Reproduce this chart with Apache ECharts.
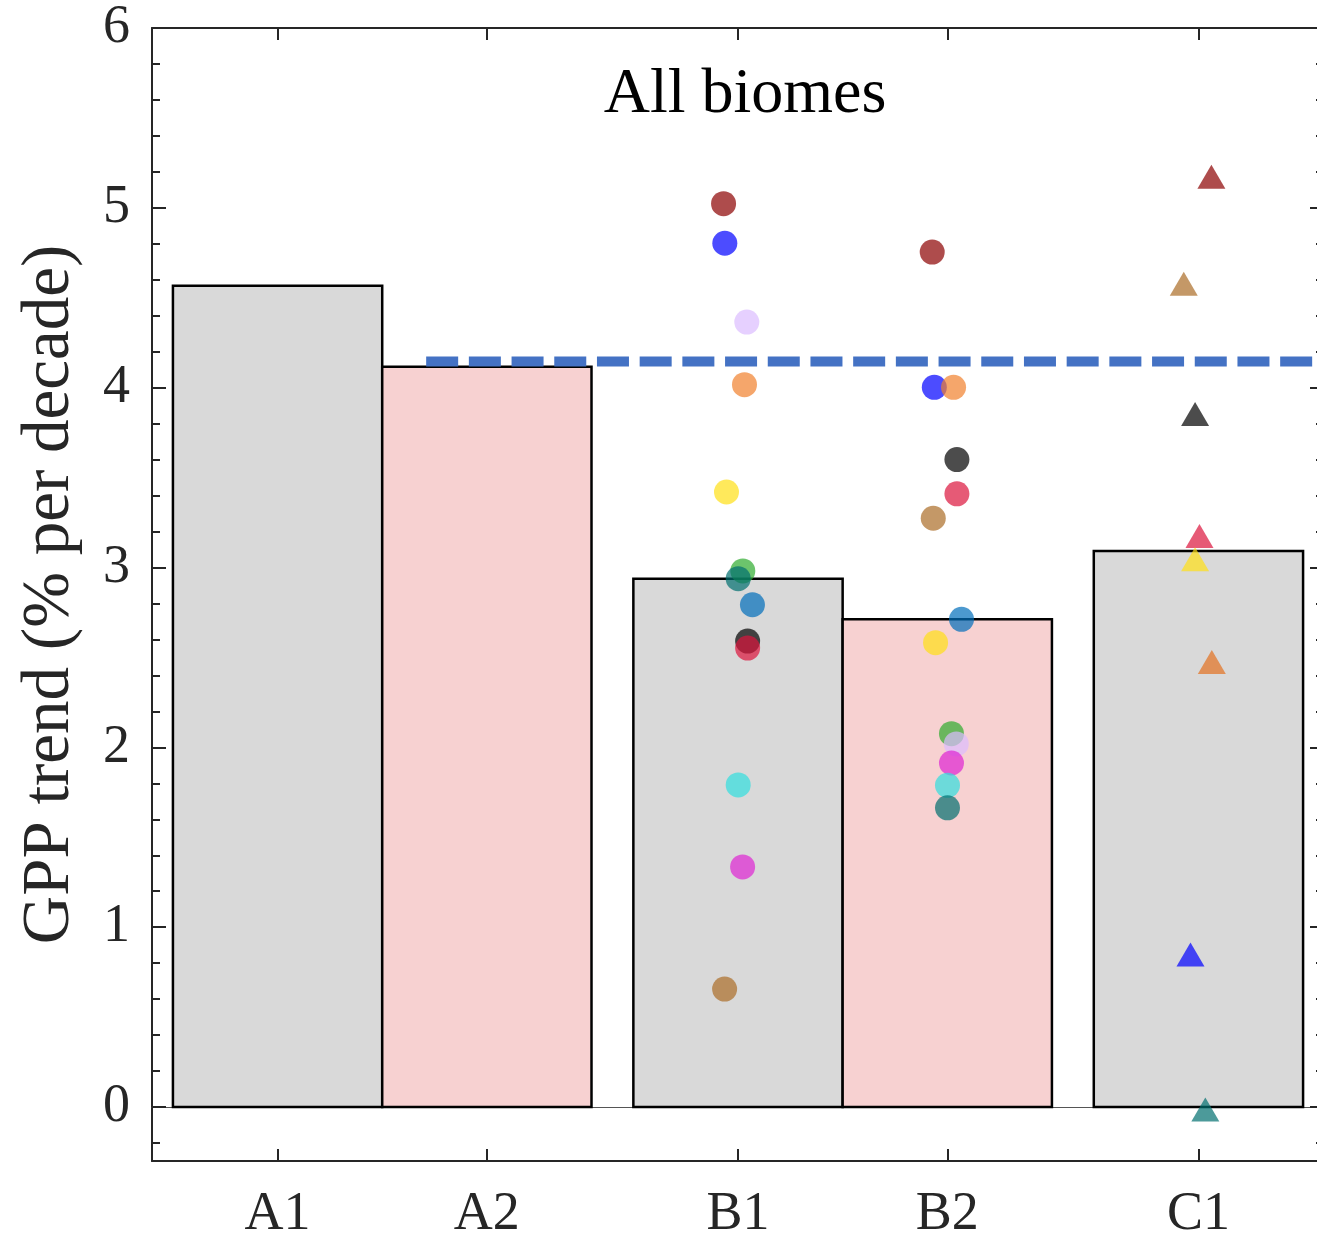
<!DOCTYPE html>
<html lang="en">
<head>
  <meta charset="UTF-8">
  <title>All biomes</title>
  <script src="https://cdn.jsdelivr.net/npm/echarts@6.0.0/dist/echarts.min.js"></script>
  <style>
    * {
      margin: 0;
      padding: 0;
      box-sizing: border-box;
    }
    body {
      background-color: #ffffff;
    }
    #chart {
      width: 1317px;
      height: 1235px;
    }
  </style>
</head>
<body>
  <div id="chart"></div>

  <script>
    // groups and bar heights
    var groupNames = ['A1', 'A2', 'B1', 'B2', 'C1'];
    var barValues = [4.567, 4.117, 2.938, 2.712, 3.092];

    // reference line (dashed)
    var refValue = 4.145;
    var refStart = 1.71;

    // individual estimates, x = jittered position, y = trend
    var b1X = [3.131, 3.137, 3.242, 3.231, 3.145, 3.223, 3.201, 3.269, 3.246, 3.246, 3.201, 3.222, 3.136];
    var b1Y = [5.023, 4.803, 4.365, 4.017, 3.420, 2.981, 2.938, 2.793, 2.591, 2.552, 1.791, 1.335, 0.656];

    var b2X = [4.128, 4.138, 4.230, 4.246, 4.246, 4.133, 4.268, 4.144, 4.220, 4.243, 4.220, 4.201, 4.201];
    var b2Y = [4.754, 4.002, 4.002, 3.600, 3.410, 3.274, 2.712, 2.582, 2.076, 2.019, 1.913, 1.789, 1.664];

    var c1X = [5.462, 5.330, 5.384, 5.405, 5.384, 5.464, 5.362, 5.433];
    var c1Y = [5.173, 4.578, 3.854, 3.175, 3.046, 2.475, 0.848, -0.014];

    // tick labels
    var yTicks = [0, 1, 2, 3, 4, 5, 6];
    var yMinorTicks = [];
    for (var i = -1; i <= 30; i++) {
      if (i % 5 !== 0) yMinorTicks.push(Math.round(i * 2) / 10);
    }

    // --- layout / style ---
    var groupPos = [1, 2, 3.2, 4.2, 5.4];
    var barFill = ['#d9d9d9', '#f7d1d1', '#d9d9d9', '#f7d1d1', '#d9d9d9'];
    var b1Colors = ['#8b0000', '#0000ff', '#dbbcff', '#f1802c', '#ffe016', '#2dab2d', '#006f6f',
                    '#006dba', '#000000', '#dc143c', '#30dede', '#de24d3', '#ab6c27'];
    var b2Colors = ['#8b0000', '#0000ff', '#f1802c', '#000000', '#dc143c', '#ab6c27', '#006dba',
                    '#ffe016', '#2dab2d', '#dbbcff', '#de24d3', '#30dede', '#006f6f'];
    var c1Colors = ['#8b0000', '#ab6c27', '#000000', '#dc143c', '#ffe016', '#e2701f', '#0000ff', '#006f6f'];

    var axisColor = '#262626';
    var fontFamily = "'Liberation Serif', 'Times New Roman', serif";

    function points(xs, ys, colors) {
      return xs.map(function (x, k) {
        return { value: [x, ys[k]], itemStyle: { color: colors[k] } };
      });
    }

    var chartDom = document.getElementById('chart');
    var myChart = echarts.init(chartDom, null, { renderer: 'canvas' });

    var labelStyle = { fontSize: 54, color: axisColor, fontFamily: fontFamily };

    var option = {
      animation: false,
      backgroundColor: '#ffffff',
      title: {
        text: 'All biomes',
        left: 740,
        top: 58,
        textAlign: 'center',
        textStyle: { fontSize: 64, fontWeight: 'normal', color: '#000000', fontFamily: fontFamily }
      },
      // the right edge of the box sits just outside the picture
      grid: {
        left: 152, width: 1172, top: 28, height: 1133,
        containLabel: false, outerBoundsMode: 'none'
      },
      xAxis: [
        {
          type: 'value', position: 'bottom', min: 0.4, max: 6,
          axisLine: { show: true, onZero: false, lineStyle: { color: axisColor, width: 2 } },
          axisTick: { show: true, inside: true, length: 12, customValues: groupPos, lineStyle: { color: axisColor, width: 2 } },
          axisLabel: {
            show: true, margin: 27, customValues: groupPos,
            fontSize: 54, color: axisColor, fontFamily: fontFamily,
            formatter: function (v) {
              for (var k = 0; k < groupPos.length; k++) {
                if (Math.abs(groupPos[k] - v) < 1e-6) return groupNames[k];
              }
              return '';
            }
          },
          splitLine: { show: false }
        },
        {
          type: 'value', position: 'top', min: 0.4, max: 6,
          axisLine: { show: true, onZero: false, lineStyle: { color: axisColor, width: 2 } },
          axisTick: { show: true, inside: true, length: 12, customValues: groupPos, lineStyle: { color: axisColor, width: 2 } },
          axisLabel: { show: false },
          splitLine: { show: false }
        },
        {
          // zero line
          type: 'value', position: 'bottom', min: 0.4, max: 6,
          axisLine: { show: true, onZero: true, lineStyle: { color: '#555555', width: 1 } },
          axisTick: { show: false },
          axisLabel: { show: false },
          splitLine: { show: false }
        }
      ],
      yAxis: [
        {
          type: 'value', position: 'left', min: -0.3, max: 6,
          name: 'GPP trend (% per decade)',
          nameLocation: 'middle',
          nameGap: 68,
          nameTextStyle: { fontSize: 67, color: axisColor, fontFamily: fontFamily },
          axisLine: { show: true, onZero: false, lineStyle: { color: axisColor, width: 2 } },
          axisTick: { show: true, inside: true, length: 14, customValues: yTicks, lineStyle: { color: axisColor, width: 2 } },
          axisLabel: Object.assign({ show: true, margin: 22, customValues: yTicks }, labelStyle),
          splitLine: { show: false }
        },
        {
          type: 'value', position: 'left', min: -0.3, max: 6,
          axisLine: { show: false, onZero: false },
          axisTick: { show: true, inside: true, length: 8, customValues: yMinorTicks, lineStyle: { color: axisColor, width: 2 } },
          axisLabel: { show: false },
          splitLine: { show: false }
        },
        {
          type: 'value', position: 'right', min: -0.3, max: 6,
          axisLine: { show: true, onZero: false, lineStyle: { color: axisColor, width: 2 } },
          axisTick: { show: true, inside: true, length: 14, customValues: yTicks, lineStyle: { color: axisColor, width: 2 } },
          axisLabel: { show: false },
          splitLine: { show: false }
        },
        {
          type: 'value', position: 'right', min: -0.3, max: 6,
          axisLine: { show: false, onZero: false },
          axisTick: { show: true, inside: true, length: 8, customValues: yMinorTicks, lineStyle: { color: axisColor, width: 2 } },
          axisLabel: { show: false },
          splitLine: { show: false }
        }
      ],
      series: [
        {
          type: 'custom',
          name: 'bars',
          xAxisIndex: 0,
          yAxisIndex: 0,
          z: 2,
          data: groupPos.map(function (x, k) { return [x, barValues[k]]; }),
          renderItem: function (params, api) {
            var x = api.value(0);
            var y = api.value(1);
            var p0 = api.coord([x - 0.5, y]);
            var p1 = api.coord([x + 0.5, 0]);
            return {
              type: 'rect',
              shape: { x: p0[0], y: p0[1], width: p1[0] - p0[0], height: p1[1] - p0[1] },
              style: { fill: barFill[params.dataIndex], stroke: '#000000', lineWidth: 2.5 }
            };
          }
        },
        {
          type: 'line',
          name: 'reference',
          xAxisIndex: 0,
          yAxisIndex: 0,
          z: 3,
          symbol: 'none',
          data: [[refStart, refValue], [6, refValue]],
          lineStyle: { color: '#4472c4', width: 10, type: [32, 10.7], cap: 'butt' }
        },
        {
          type: 'scatter',
          name: 'B1',
          xAxisIndex: 0,
          yAxisIndex: 0,
          z: 4,
          symbol: 'circle',
          symbolSize: 25,
          itemStyle: { opacity: 0.7 },
          data: points(b1X, b1Y, b1Colors)
        },
        {
          type: 'scatter',
          name: 'B2',
          xAxisIndex: 0,
          yAxisIndex: 0,
          z: 4,
          symbol: 'circle',
          symbolSize: 25,
          itemStyle: { opacity: 0.7 },
          data: points(b2X, b2Y, b2Colors)
        },
        {
          type: 'scatter',
          name: 'C1',
          xAxisIndex: 0,
          yAxisIndex: 0,
          z: 4,
          symbol: 'triangle',
          symbolSize: [28, 24],
          itemStyle: { opacity: 0.7 },
          data: points(c1X, c1Y, c1Colors)
        }
      ]
    };

    myChart.setOption(option);
  </script>
</body>
</html>
